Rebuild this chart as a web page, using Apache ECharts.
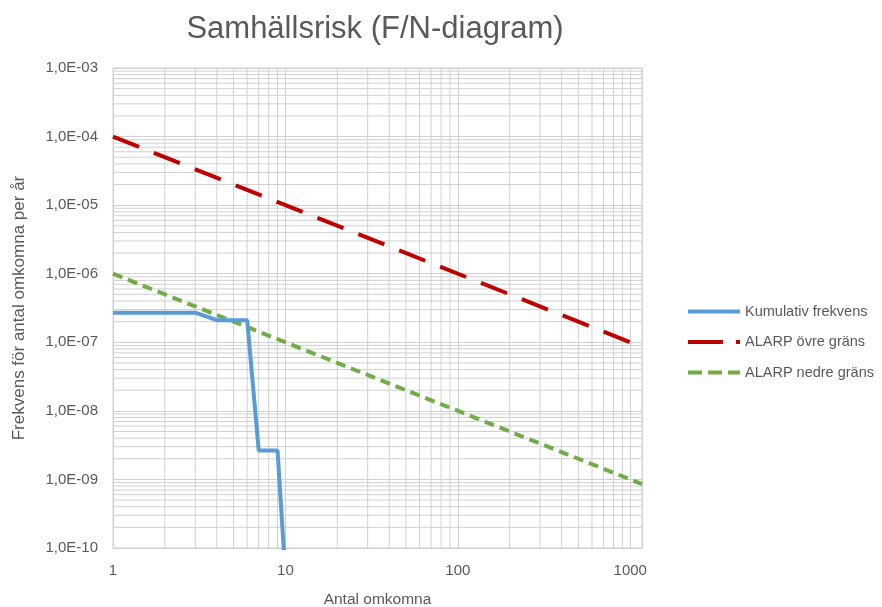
<!DOCTYPE html>
<html><head><meta charset="utf-8">
<script src="https://cdn.jsdelivr.net/npm/echarts@6/dist/echarts.min.js"></script>
<style>html,body{margin:0;padding:0;background:#fff}#c{width:882px;height:607px}</style>
</head><body><div id="c"></div>
<script>
// Data
var xDeaths   = [1, 3, 4, 6, 7, 9, 10];
var cumFreq   = [2.7e-7, 2.7e-7, 2.1e-7, 2.1e-7, 2.65e-9, 2.65e-9, 4e-11];
var limitX    = [1, 1170];
var upperLim  = [1e-4, 8.55e-8];
var lowerLim  = [1e-6, 8.55e-10];
var xTickLabels = ['1', '10', '100', '1000'];
var yTickLabels = ['1,0E-10','1,0E-09','1,0E-08','1,0E-07','1,0E-06','1,0E-05','1,0E-04','1,0E-03'];
var xRange = [1, 1170];
var yRange = [1e-10, 1e-3];
var xMinor = [2,3,4,5,6,7,8,9,20,30,40,50,60,70,80,90,200,300,400,500,600,700,800,900];
var yMinorMant = [2,3,4,5,6,7,8,9];
var yMinorExp = [-10,-9,-8,-7,-6,-5,-4];

var FONT = 'Liberation Sans, Arial, sans-serif';
var TXT = '#595959';
var GRID = '#d0d0d0';

function pairs(xs, ys){ return xs.map(function(x,i){ return [x, ys[i]]; }); }

// minor grid lines built as broken line segments through the axes' scales
var yMinor = [];
yMinorExp.forEach(function(e){ yMinorMant.forEach(function(k){ yMinor.push(k*Math.pow(10,e)); }); });
var minorData = [];
yMinor.forEach(function(v){ minorData.push([xRange[0], v], [xRange[1], v], ['-','-']); });
xMinor.forEach(function(v){ minorData.push([v, yRange[0]], [v, yRange[1]], ['-','-']); });

var chart = echarts.init(document.getElementById('c'), null, {renderer:'canvas'});

chart.setOption({
  animation: false,
  textStyle: {fontFamily: FONT},
  title: {
    text: 'Samhällsrisk (F/N-diagram)', left: 370, top: 9, textAlign: 'center',
    textStyle: {fontFamily: FONT, fontSize: 31, fontWeight: 'normal', color: TXT}
  },
  legend: {
    orient: 'vertical', left: 681, top: 299, itemGap: 15.5,
    itemWidth: 52, itemHeight: 12,
    itemStyle: {opacity: 0},
    textStyle: {fontFamily: FONT, fontSize: 14.5, color: TXT},
    data: [
      {name: 'Kumulativ frekvens', lineStyle: {width: 4}},
      {name: 'ALARP övre gräns', lineStyle: {width: 4, type: [35, 13]}},
      {name: 'ALARP nedre gräns', lineStyle: {width: 4, type: [14, 6]}}
    ]
  },
  grid: {left: 113, right: 240, top: 68, bottom: 59, show: true,
    outerBoundsMode: 'none', containLabel: false,
    borderColor: GRID, borderWidth: 1, backgroundColor: 'transparent'},
  xAxis: {
    type: 'log', logBase: 10, min: xRange[0], max: xRange[1],
    name: 'Antal omkomna', nameLocation: 'middle', nameGap: 44,
    nameTextStyle: {fontFamily: FONT, fontSize: 15.5, color: TXT},
    axisLine: {show: true, lineStyle: {color: GRID}},
    axisTick: {show: false},
    axisLabel: {fontFamily: FONT, fontSize: 15, color: TXT, margin: 15,
      formatter: function(v){
        var e = Math.round(Math.log10(v));
        if (Math.abs(v - Math.pow(10, e)) > 1e-6 * v) return '';
        return xTickLabels[e] || '';
      }},
    splitLine: {show: true, lineStyle: {color: GRID, width: 1}}
  },
  yAxis: {
    type: 'log', logBase: 10, min: yRange[0], max: yRange[1],
    name: 'Frekvens för antal omkomna per år', nameLocation: 'middle', nameGap: 85,
    nameTextStyle: {fontFamily: FONT, fontSize: 17, color: TXT},
    axisLine: {show: true, lineStyle: {color: GRID}},
    axisTick: {show: false},
    axisLabel: {fontFamily: FONT, fontSize: 15, color: TXT, margin: 15,
      formatter: function(v){
        var e = Math.round(Math.log10(v));
        return yTickLabels[e + 10] || '';
      }},
    splitLine: {show: true, lineStyle: {color: GRID, width: 1}}
  },
  series: [
    {
      name: 'grid-minor', type: 'line', data: minorData, silent: true, z: 1,
      showSymbol: false, symbol: 'none', connectNulls: false, clip: true,
      lineStyle: {color: GRID, width: 1}, emphasis: {disabled: true}
    },
    {
      name: 'Kumulativ frekvens', type: 'line', data: pairs(xDeaths, cumFreq),
      showSymbol: false, symbol: 'none', clip: true,
      lineStyle: {color: '#5B9BD5', width: 4}, itemStyle: {color: '#5B9BD5'}, z: 5
    },
    {
      name: 'ALARP övre gräns', type: 'line', data: pairs(limitX, upperLim),
      showSymbol: false, symbol: 'none', clip: true,
      lineStyle: {color: '#C00000', width: 4, type: [28, 16]}, itemStyle: {color: '#C00000'}, z: 4
    },
    {
      name: 'ALARP nedre gräns', type: 'line', data: pairs(limitX, lowerLim),
      showSymbol: false, symbol: 'none', clip: true,
      lineStyle: {color: '#70AD47', width: 4, type: [10, 6]}, itemStyle: {color: '#70AD47'}, z: 4
    }
  ]
});
</script></body></html>
